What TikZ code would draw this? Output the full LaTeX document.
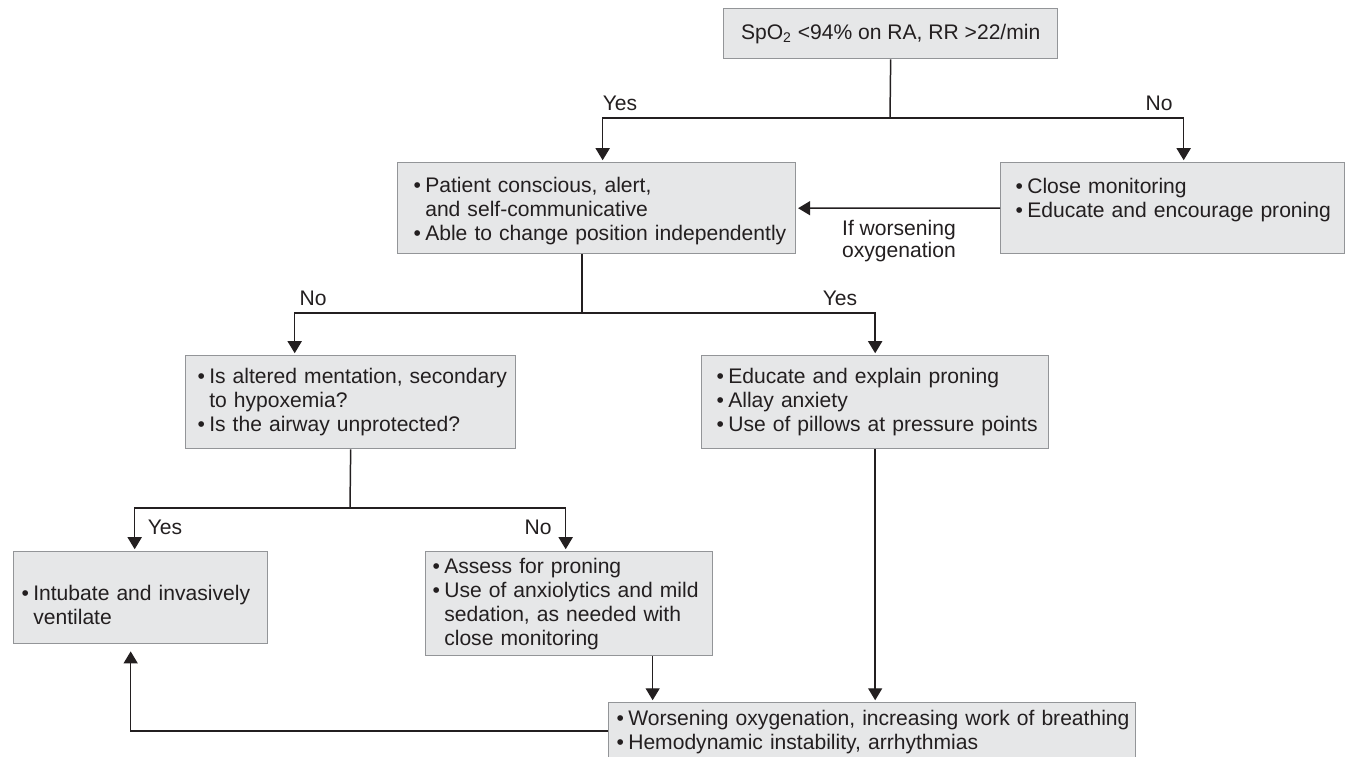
\documentclass[tikz,border=0pt]{standalone}
\usepackage{fontspec}
\setmainfont{Liberation Sans}
\usetikzlibrary{arrows.meta}
\definecolor{boxfill}{HTML}{E6E7E8}
\definecolor{boxedge}{HTML}{939598}
\definecolor{ink}{HTML}{231F20}
\newcommand{\bpt}[1]{\mbox{\textbullet\hspace{0.2em}#1}}
\newcommand{\bgap}[1]{\mbox{\hphantom{\textbullet\hspace{0.2em}}#1}}
\tikzset{
  box/.style={draw=boxedge, fill=boxfill, line width=0.8pt, anchor=north west,
    inner ysep=0pt, align=left, text=ink, font=\fontsize{12}{13.66}\selectfont},
  lbl/.style={text=ink, inner sep=0pt, font=\fontsize{12}{12.6}\selectfont},
  flow/.style={draw=ink, line width=0.85pt},
  arr/.style={flow, -{Triangle[length=0.24cm,width=0.28cm]}, shorten >=1pt},
}
\begin{document}
\begin{tikzpicture}[x=0.02cm,y=-0.02cm]
  \useasboundingbox (0,0) rectangle (1349,757);
  \node[box, align=center, inner xsep=0pt, minimum width=6.68cm, minimum height=1cm] (spo) at (723,8)
    {SpO\textsubscript{2} <94\% on RA, RR >22/min};
  \node[box, inner xsep=0.32cm, text width=7.32cm, text height=0.6cm, text depth=1.22cm] (alert) at (397,162)
    {\bpt{Patient conscious, alert,}\\\bgap{and self-communicative}\\\bpt{Able to change position independently}};
  \node[box, inner xsep=0.3cm, text width=6.28cm, text height=0.62cm, text depth=1.2cm] (monitor) at (1000,162)
    {\bpt{Close monitoring}\\\bpt{Educate and encourage proning}};
  \node[box, inner xsep=0.24cm, text width=6.12cm, text height=0.56cm, text depth=1.3cm] (mentat) at (185,355)
    {\bpt{Is altered mentation, secondary}\\\bgap{to hypoxemia?}\\\bpt{Is the airway unprotected?}};
  \node[box, inner xsep=0.3cm, text width=6.34cm, text height=0.56cm, text depth=1.3cm] (educ) at (701,355)
    {\bpt{Educate and explain proning}\\\bpt{Allay anxiety}\\\bpt{Use of pillows at pressure points}};
  \node[box, inner xsep=0.16cm, text width=4.76cm, text height=0.98cm, text depth=0.86cm] (intub) at (13,551)
    {\bpt{Intubate and invasively}\\\bgap{ventilate}};
  \node[box, inner xsep=0.14cm, text width=5.46cm, text height=0.44cm, text depth=1.64cm] (assess) at (425,551)
    {\bpt{Assess for proning}\\\bpt{Use of anxiolytics and mild}\\\bgap{sedation, as needed with}\\\bgap{close monitoring}};
  \node[box, inner xsep=0.16cm, text width=10.22cm, text height=0.46cm, text depth=1.1cm] (worse) at (608,702)
    {\bpt{Worsening oxygenation, increasing work of breathing}\\\bpt{Hemodynamic instability, arrhythmias}};

  \coordinate (split1) at (890,118);
  \draw[flow] (spo.south) -- (split1);
  \draw[arr] (split1) -| ([xshift=0.12cm]alert.north);
  \draw[arr] (split1) -| ([xshift=0.22cm]monitor.north);
  \draw[arr] (monitor.west) -- (alert.east);
  \coordinate (split2) at (582,313);
  \draw[flow] (alert.south -| split2) -- (split2);
  \draw[arr] (split2) -| ([xshift=-1.12cm]mentat.north);
  \draw[arr] (split2) -| (educ.north);
  \coordinate (split3) at (350,508);
  \draw[flow] (mentat.south) -- (split3);
  \draw[arr] (split3) -| ([xshift=-0.12cm]intub.north);
  \draw[arr] (split3) -| ([xshift=-0.07cm]assess.north);
  \coordinate (fOut) at ([xshift=1.67cm]assess.south);
  \draw[arr] (fOut) -- (fOut |- worse.north);
  \draw[arr] (educ.south) -- (educ.south |- worse.north);
  \coordinate (wOut) at ([yshift=-0.58cm]worse.north west);
  \draw[arr, shorten >=0.14cm] (wOut) -| ([xshift=-0.2cm]intub.south);

  \node[lbl] (yes1) at (620,103) {Yes};
  \node[lbl] (no1) at (1159,103) {No};
  \node[lbl] (no2) at (313,298) {No};
  \node[lbl] (yes2) at (840,298) {Yes};
  \node[lbl] (yes3) at (165,527) {Yes};
  \node[lbl] (no3) at (538,527) {No};
  \node[lbl, align=left] (ifworse) at (899,241) {If worsening\\oxygenation};
\end{tikzpicture}
\end{document}
